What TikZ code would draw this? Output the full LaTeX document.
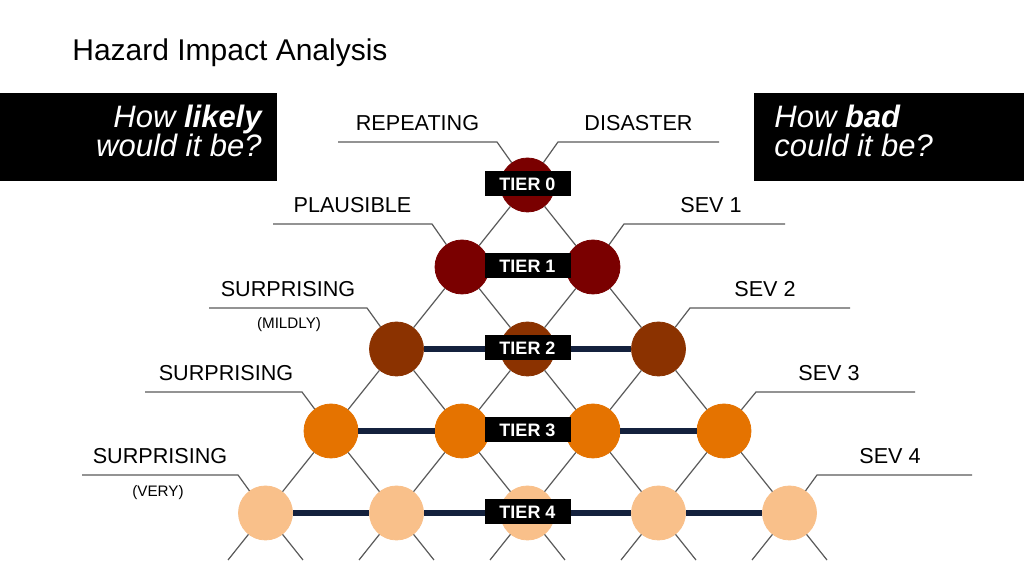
\documentclass[tikz,border=0pt]{standalone}
\usepackage{fontspec}
\setmainfont{Liberation Sans}
\definecolor{colA}{HTML}{7A0000}
\definecolor{colB}{HTML}{7A0000}
\definecolor{colC}{HTML}{8B3200}
\definecolor{colD}{HTML}{E57300}
\definecolor{colE}{HTML}{F9C08A}
\definecolor{navyline}{HTML}{14213D}
\definecolor{lattgray}{HTML}{5A5A5A}
\begin{document}
\begin{tikzpicture}[x=0.5pt,y=-0.5pt,
  dot/.style={circle,inner sep=0pt,minimum size=27pt},
  latt/.style={draw=lattgray,line width=0.6pt},
  tierline/.style={draw=navyline,line width=3pt},
  tierbox/.style={fill=black,text=white,inner sep=0pt,minimum width=43pt,minimum height=12.5pt,font=\fontsize{9}{10}\selectfont\bfseries},
  lab/.style={inner sep=0pt,anchor=base,font=\fontsize{10.8}{12}\selectfont},
  sublab/.style={inner sep=0pt,anchor=base,font=\fontsize{7.6}{9}\selectfont},
  qtext/.style={inner sep=0pt,text=white,font=\fontsize{15.5}{17}\selectfont\itshape},
  blk/.style={fill=black,inner sep=0pt,minimum width=138.5pt,minimum height=44pt,anchor=north west}
]
\useasboundingbox (0,0) rectangle (1024,576);
\fill[white] (0,0) rectangle (1024,576);

% title
\node[inner sep=0pt,anchor=base west,font=\fontsize{15}{18}\selectfont] (title) at (72,61) {Hazard Impact Analysis};

% question boxes
\node[blk] (lbox) at (0,93) {};
\node[blk,minimum width=135pt] (rbox) at (754,93) {};
\node[qtext,anchor=base east] (lq1) at (262,128) {How \textbf{likely}};
\node[qtext,anchor=base east] (lq2) at (262,157) {would it be?};
\node[qtext,anchor=base west] (rq1) at (774,128) {How \textbf{bad}};
\node[qtext,anchor=base west] (rq2) at (774,157) {could it be?};

% circles
\foreach \k/\c in {0/colA,1/colB,2/colC,3/colD,4/colE}{
  \foreach \j in {0,...,\k}{
    \node[dot,fill=\c,draw=\c] (c-\k-\j) at ({527.5+65.5*(2*\j-\k)},{185+82*\k}) {};
  }
}

% lattice
\foreach \k in {0,...,3}{
  \pgfmathtruncatemacro{\kn}{\k+1}
  \foreach \j in {0,...,\k}{
    \pgfmathtruncatemacro{\jn}{\j+1}
    \draw[latt] (c-\k-\j) -- (c-\kn-\j);
    \draw[latt] (c-\k-\j) -- (c-\kn-\jn);
  }
}
% stubs below tier 4
\foreach \j in {0,...,4}{
  \coordinate (sl-\j) at ({527.5+65.5*(2*\j-4)-37.5},560);
  \coordinate (sr-\j) at ({527.5+65.5*(2*\j-4)+37.5},560);
  \draw[latt] (c-4-\j) -- (sl-\j);
  \draw[latt] (c-4-\j) -- (sr-\j);
}

% tier lines
\draw[tierline] (c-2-0) -- (c-2-1);
\draw[tierline] (c-2-1) -- (c-2-2);
\draw[tierline] (c-3-0) -- (c-3-1);
\draw[tierline] (c-3-1) -- (c-3-2);
\draw[tierline] (c-3-2) -- (c-3-3);
\draw[tierline] (c-4-0) -- (c-4-1);
\draw[tierline] (c-4-1) -- (c-4-2);
\draw[tierline] (c-4-2) -- (c-4-3);
\draw[tierline] (c-4-3) -- (c-4-4);

% left label leaders
\coordinate (la-0) at (497,142);  \coordinate (lb-0) at (338,142);
\coordinate (la-1) at (432,224);  \coordinate (lb-1) at (273,224);
\coordinate (la-2) at (367,308);  \coordinate (lb-2) at (209,308);
\coordinate (la-3) at (302,392);  \coordinate (lb-3) at (145,392);
\coordinate (la-4) at (238,475);  \coordinate (lb-4) at (82,475);
\foreach \k in {0,...,4}{
  \draw[latt] (c-\k-0) -- (la-\k) -- (lb-\k);
}
% right label leaders
\coordinate (ra-0) at (558,142);  \coordinate (rb-0) at (719,142);
\coordinate (ra-1) at (624,224);  \coordinate (rb-1) at (785,224);
\coordinate (ra-2) at (690,308);  \coordinate (rb-2) at (850,308);
\coordinate (ra-3) at (756,392);  \coordinate (rb-3) at (915,392);
\coordinate (ra-4) at (817,475);  \coordinate (rb-4) at (972,475);
\draw[latt] (c-0-0) -- (ra-0) -- (rb-0);
\draw[latt] (c-1-1) -- (ra-1) -- (rb-1);
\draw[latt] (c-2-2) -- (ra-2) -- (rb-2);
\draw[latt] (c-3-3) -- (ra-3) -- (rb-3);
\draw[latt] (c-4-4) -- (ra-4) -- (rb-4);

% labels
\node[lab] (l0) at (417.5,131) {REPEATING};
\node[lab] (l1) at (352.5,213) {PLAUSIBLE};
\node[lab] (l2) at (288,297) {SURPRISING};
\node[sublab] (l2s) at (289,329) {(MILDLY)};
\node[lab] (l3) at (226,381) {SURPRISING};
\node[lab] (l4) at (160,464) {SURPRISING};
\node[sublab] (l4s) at (158,497) {(VERY)};
\node[lab] (r0) at (638.5,131) {DISASTER};
\node[lab] (r1) at (711,213) {SEV 1};
\node[lab] (r2) at (765,297) {SEV 2};
\node[lab] (r3) at (829,381) {SEV 3};
\node[lab] (r4) at (890,464) {SEV 4};

% tier boxes
\foreach \k in {0,...,4}{
  \node[tierbox] (t-\k) at (527.5,{184+82*\k}) {TIER \k};
}
\end{tikzpicture}
\end{document}
